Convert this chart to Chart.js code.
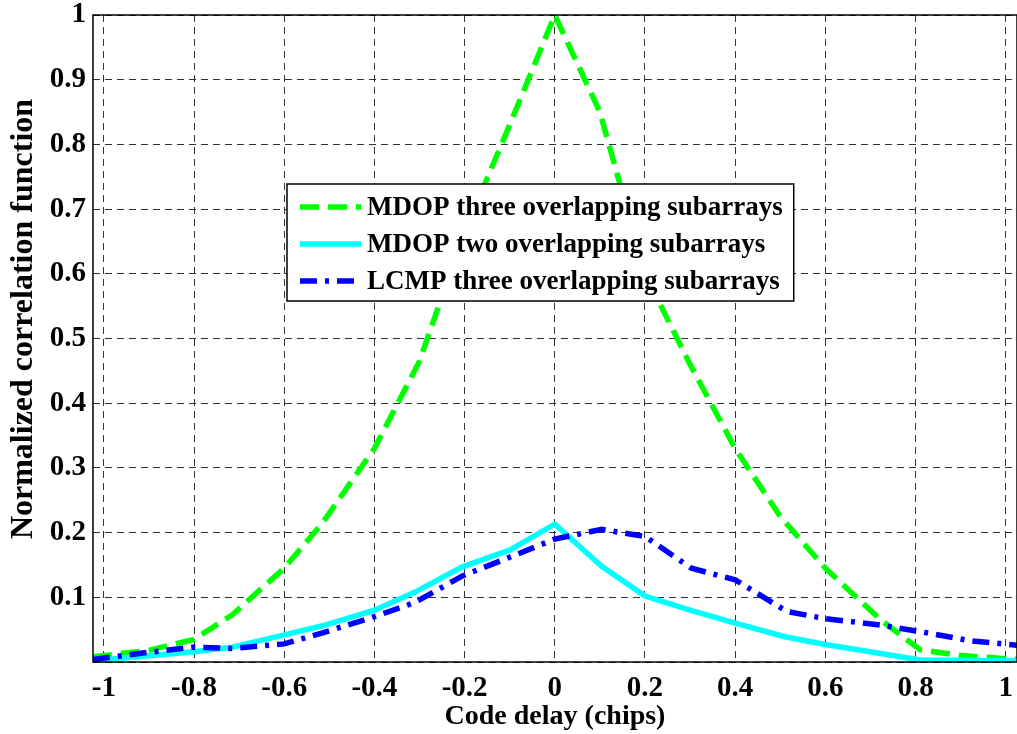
<!DOCTYPE html>
<html>
<head>
<meta charset="utf-8">
<script src="https://cdn.jsdelivr.net/npm/chart.js@4/dist/chart.umd.min.js"></script>
<style>
  body { margin: 0; background: #fff; }
  #wrap { width: 1017px; height: 734px; }
</style>
</head>
<body>
<div id="wrap"><canvas id="corrChart" width="1017" height="734"></canvas></div>
<script>
// values
const xTickVals = [-1, -0.8, -0.6, -0.4, -0.2, 0, 0.2, 0.4, 0.6, 0.8, 1];
const yTickVals = [0, 0.1, 0.2, 0.3, 0.4, 0.5, 0.6, 0.7, 0.8, 0.9, 1];

const seriesLabels = [
    'MDOP three overlapping subarrays',
    'MDOP two overlapping subarrays',
    'LCMP three overlapping subarrays'
];
const yTitle = 'Normalized correlation function';

const mdop3X = [-1.024, -0.9, -0.8, -0.715, -0.6, -0.515, -0.4, -0.3, -0.2, -0.1, 0, 0.1, 0.2, 0.3, 0.4, 0.5, 0.6, 0.723, 0.81, 0.9, 1.025];
const mdop3Y = [0.008, 0.018, 0.035, 0.073, 0.145, 0.215, 0.33, 0.465, 0.665, 0.83, 1.0, 0.85, 0.6, 0.46, 0.33, 0.225, 0.145, 0.065, 0.019, 0.01, 0.004];

const mdop2X = [-1.024, -0.8, -0.715, -0.6, -0.515, -0.4, -0.31, -0.205, -0.1, 0, 0.104, 0.2, 0.3, 0.4, 0.51, 0.6, 0.723, 0.81, 1.025];
const mdop2Y = [0.002, 0.016, 0.023, 0.042, 0.056, 0.08, 0.108, 0.147, 0.173, 0.213, 0.148, 0.102, 0.08, 0.06, 0.039, 0.027, 0.013, 0.003, 0.002];

const lcmpX = [-1.024, -0.9, -0.8, -0.715, -0.6, -0.515, -0.4, -0.31, -0.205, -0.1, 0, 0.104, 0.2, 0.303, 0.4, 0.515, 0.6, 0.723, 0.81, 0.92, 1.025];
const lcmpY = [0.004, 0.015, 0.023, 0.021, 0.028, 0.045, 0.07, 0.092, 0.133, 0.162, 0.19, 0.205, 0.194, 0.145, 0.127, 0.078, 0.067, 0.057, 0.047, 0.033, 0.026];

const colors = {
    mdop3: '#00ff00',
    mdop2: '#00ffff',
    lcmp: '#0000ff'
};

const FONT = '"Liberation Serif", "Times New Roman", serif';

function toPoints(xs, ys) {
    return xs.map((x, i) => ({ x: x, y: ys[i] }));
}

// frame + legend box inside the axes + y title, like the matlab figure
const frameAndLegend = {
    id: 'frameAndLegend',
    afterDraw(chart) {
        const ctx = chart.ctx;
        const area = chart.chartArea;
        ctx.save();
        ctx.setLineDash([]);
        ctx.strokeStyle = '#000';
        ctx.lineWidth = 1.5;
        ctx.strokeRect(area.left, area.top, area.right - area.left, area.bottom - area.top);

        // y axis title (sits a bit above the middle in the original)
        ctx.save();
        ctx.translate(24, 319);
        ctx.rotate(-Math.PI / 2);
        ctx.font = 'bold 32px ' + FONT;
        ctx.fillStyle = '#000';
        ctx.textAlign = 'center';
        ctx.textBaseline = 'middle';
        ctx.fillText(yTitle, 0, 0);
        ctx.restore();

        // legend
        const boxX = area.left + 194, boxY = area.top + 169;
        const rowH = 37, sampleW = 62, pad = 12;
        ctx.font = 'bold 27px ' + FONT;
        let textW = 0;
        chart.data.datasets.forEach(ds => { textW = Math.max(textW, ctx.measureText(ds.label).width); });
        const boxW = pad + sampleW + 6 + textW + 11;
        const boxH = 117;
        ctx.fillStyle = '#fff';
        ctx.fillRect(boxX, boxY, boxW, boxH);
        ctx.lineWidth = 1.5;
        ctx.strokeStyle = '#000';
        ctx.strokeRect(boxX, boxY, boxW, boxH);

        chart.data.datasets.forEach((ds, i) => {
            const cy = boxY + 23 + i * rowH;
            ctx.beginPath();
            ctx.setLineDash(ds.borderDash || []);
            ctx.strokeStyle = ds.borderColor;
            ctx.lineWidth = ds.borderWidth;
            ctx.moveTo(boxX + pad + 1, cy);
            ctx.lineTo(boxX + pad + sampleW, cy);
            ctx.stroke();
            ctx.setLineDash([]);
            ctx.fillStyle = '#000';
            ctx.textAlign = 'left';
            ctx.textBaseline = 'middle';
            ctx.fillText(ds.label, boxX + pad + sampleW + 6, cy + 1);
        });
        ctx.restore();
    }
};

const corrChart = new Chart(document.getElementById('corrChart').getContext('2d'), {
    type: 'line',
    data: {
        datasets: [
            {
                label: seriesLabels[0],
                data: toPoints(mdop3X, mdop3Y),
                borderColor: colors.mdop3,
                borderWidth: 5.5,
                borderDash: [19, 9],
                order: 2
            },
            {
                label: seriesLabels[1],
                data: toPoints(mdop2X, mdop2Y),
                borderColor: colors.mdop2,
                borderWidth: 5.5,
                order: 1
            },
            {
                label: seriesLabels[2],
                data: toPoints(lcmpX, lcmpY),
                borderColor: colors.lcmp,
                borderWidth: 5.5,
                borderDash: [17, 8, 4, 8],
                order: 0
            }
        ]
    },
    options: {
        responsive: false,
        animation: false,
        events: [],
        layout: { padding: { top: 15, right: 0, left: 0, bottom: 0 } },
        elements: {
            point: { radius: 0 },
            line: { tension: 0, borderCapStyle: 'butt', borderJoinStyle: 'miter' }
        },
        plugins: {
            legend: { display: false },
            tooltip: { enabled: false }
        },
        scales: {
            x: {
                type: 'linear',
                min: -1.024,
                max: 1.025,
                afterBuildTicks: (scale) => { scale.ticks = xTickVals.map(v => ({ value: v })); },
                afterFit: (scale) => {
                    scale.height = 72;
                    scale.paddingLeft = 0;
                    scale.paddingRight = 0;
                },
                grid: { color: '#333', lineWidth: 1, drawTicks: false },
                border: { display: false, dash: [7, 5] },
                ticks: {
                    padding: 9,
                    color: '#000',
                    maxRotation: 0,
                    autoSkip: false,
                    font: { family: FONT, size: 29, weight: 'bold' },
                    callback: (v) => String(v)
                },
                title: {
                    display: true,
                    text: 'Code delay (chips)',
                    color: '#000',
                    padding: { top: 0, bottom: 0 },
                    font: { family: FONT, size: 28, weight: 'bold' }
                }
            },
            y: {
                min: 0,
                max: 1,
                afterBuildTicks: (scale) => { scale.ticks = yTickVals.map(v => ({ value: v })); },
                afterFit: (scale) => {
                    scale.width = 93;
                    scale.paddingTop = 0;
                    scale.paddingBottom = 0;
                },
                grid: { color: '#333', lineWidth: 1, drawTicks: false },
                border: { display: false, dash: [7, 5] },
                ticks: {
                    padding: 7,
                    color: '#000',
                    autoSkip: false,
                    font: { family: FONT, size: 29, weight: 'bold' },
                    callback: (v) => (v === 0 ? '' : String(v))
                },
                title: { display: false }
            }
        }
    },
    plugins: [frameAndLegend]
});
</script>
</body>
</html>
